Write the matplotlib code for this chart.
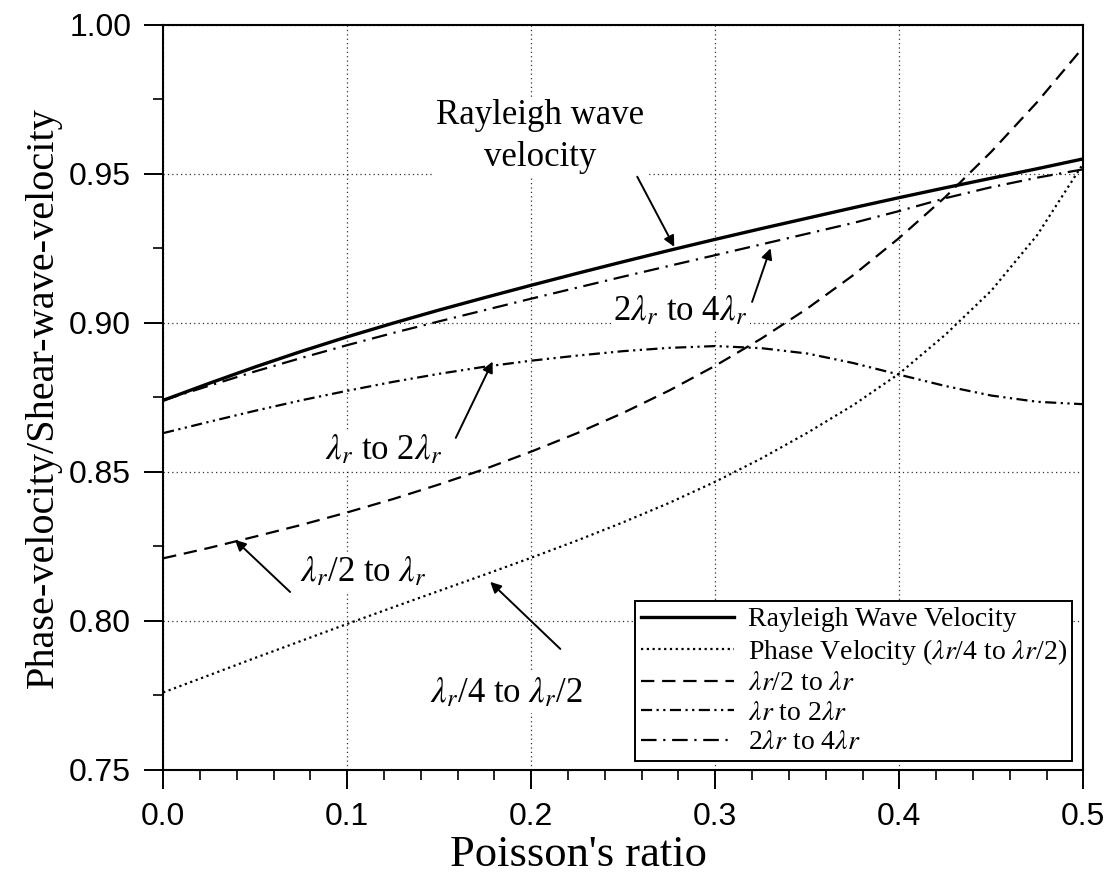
import matplotlib
matplotlib.use("Agg")
import matplotlib.pyplot as plt
from matplotlib.ticker import MultipleLocator

plt.rcParams["mathtext.fontset"] = "stix"

# Poisson's ratio and velocity ratios
poisson = [0.0, 0.025, 0.05, 0.075, 0.1, 0.125, 0.15, 0.175, 0.2, 0.225, 0.25,
           0.275, 0.3, 0.325, 0.35, 0.375, 0.4, 0.425, 0.45, 0.475, 0.5]
rayleigh = [0.8740, 0.8797, 0.8852, 0.8904, 0.8953, 0.8999, 0.9043, 0.9085, 0.9126, 0.9166, 0.9205,
            0.9243, 0.9280, 0.9316, 0.9351, 0.9386, 0.9420, 0.9453, 0.9485, 0.9517, 0.9550]
quarter_half = [0.7760, 0.7818, 0.7876, 0.7933, 0.7990, 0.8046, 0.8101, 0.8156, 0.8212, 0.8270, 0.8331,
                0.8396, 0.8467, 0.8545, 0.8631, 0.8724, 0.8830, 0.8960, 0.9108, 0.9295, 0.9535]
half_one = [0.8210, 0.8245, 0.8283, 0.8322, 0.8364, 0.8409, 0.8458, 0.8510, 0.8568, 0.8630, 0.8698,
            0.8773, 0.8856, 0.8947, 0.9048, 0.9160, 0.9285, 0.9422, 0.9574, 0.9741, 0.9925]
one_two = [0.8630, 0.8668, 0.8705, 0.8740, 0.8772, 0.8802, 0.8829, 0.8853, 0.8873, 0.8890, 0.8905,
           0.8916, 0.8922, 0.8915, 0.8897, 0.8865, 0.8826, 0.8788, 0.8756, 0.8735, 0.8727]
two_four = [0.8740, 0.8789, 0.8837, 0.8882, 0.8925, 0.8966, 0.9005, 0.9043, 0.9081, 0.9118, 0.9155,
            0.9191, 0.9227, 0.9263, 0.9299, 0.9335, 0.9375, 0.9418, 0.9455, 0.9487, 0.9515]

legend_labels = [
    "Rayleigh Wave Velocity",
    r"Phase Velocity ($\lambda r$/4 to $\lambda r$/2)",
    r"$\lambda r$/2 to $\lambda r$",
    r"$\lambda r$ to 2$\lambda r$",
    r"2$\lambda r$ to 4$\lambda r$",
]

serif = "Liberation Serif"
sans = "Liberation Sans"

fig = plt.figure(figsize=(11.1, 8.82), dpi=100)
ax = fig.add_axes([0.147, 0.127, 0.829, 0.845])

ax.plot(poisson, rayleigh, color="black", lw=2.4, ls="-", label=legend_labels[0])
ax.plot(poisson, quarter_half, color="black", lw=1.6, ls=(0, (1, 1.6)), label=legend_labels[1])
ax.plot(poisson, half_one, color="black", lw=1.6, ls=(0, (6, 3.5)), label=legend_labels[2])
ax.plot(poisson, one_two, color="black", lw=1.6, ls=(0, (5, 2, 1, 2, 1, 2)), label=legend_labels[3])
ax.plot(poisson, two_four, color="black", lw=1.6, ls=(0, (7, 3, 1, 3)), label=legend_labels[4])

ax.set_xlim(0, 0.5)
ax.set_ylim(0.75, 1.00)
ax.xaxis.set_major_locator(MultipleLocator(0.1))
ax.xaxis.set_minor_locator(MultipleLocator(0.02))
ax.yaxis.set_major_locator(MultipleLocator(0.05))
ax.yaxis.set_minor_locator(MultipleLocator(0.025))
ax.xaxis.set_major_formatter(plt.FormatStrFormatter("%.1f"))
ax.yaxis.set_major_formatter(plt.FormatStrFormatter("%.2f"))

ax.grid(True, which="major", color="black", ls=(0, (1, 2.5)), lw=0.9, alpha=0.8)
ax.set_axisbelow(True)

ax.tick_params(which="major", direction="out", length=14, width=1.4, pad=9)
ax.tick_params(which="minor", direction="out", length=7, width=1.2)
for lab in ax.get_xticklabels() + ax.get_yticklabels():
    lab.set_fontfamily(sans)
    lab.set_fontsize(23)
for sp in ax.spines.values():
    sp.set_linewidth(1.5)

ax.set_xlabel("Poisson's ratio", fontfamily=serif, fontsize=32, labelpad=2, x=0.451)
ax.set_ylabel("Phase-velocity/Shear-wave-velocity", fontfamily=serif, fontsize=29, labelpad=5)

# annotations with arrows
box = dict(facecolor="white", edgecolor="none", pad=2)
arrow = dict(arrowstyle="-|>", color="black", lw=1.4, mutation_scale=16, shrinkA=0, shrinkB=0)

ax.text(0.205, 0.9624, "Rayleigh wave\nvelocity", ha="center", va="center",
        fontfamily=serif, fontsize=25, linespacing=1.35, bbox=box)
ax.annotate("", xy=(0.2777, 0.9255), xytext=(0.2576, 0.949), arrowprops=arrow)

ax.text(0.281, 0.9040, r"2$\lambda_r$ to 4$\lambda_r$", ha="center", va="center",
        fontfamily=serif, fontsize=25, bbox=box)
ax.annotate("", xy=(0.330, 0.925), xytext=(0.320, 0.907), arrowprops=arrow)

ax.text(0.1196, 0.8574, r"$\lambda_r$ to 2$\lambda_r$", ha="center", va="center",
        fontfamily=serif, fontsize=25, bbox=box)
ax.annotate("", xy=(0.179, 0.887), xytext=(0.159, 0.8614), arrowprops=arrow)

ax.text(0.1087, 0.8164, r"$\lambda_r$/2 to $\lambda_r$", ha="center", va="center",
        fontfamily=serif, fontsize=25, bbox=box)
ax.annotate("", xy=(0.039, 0.8272), xytext=(0.069, 0.8097), arrowprops=arrow)

ax.text(0.1866, 0.7758, r"$\lambda_r$/4 to $\lambda_r$/2", ha="center", va="center",
        fontfamily=serif, fontsize=25, bbox=box)
ax.annotate("", xy=(0.1777, 0.8131), xytext=(0.2158, 0.7906), arrowprops=arrow)

leg = ax.legend(loc="lower right", bbox_to_anchor=(0.988, 0.012), borderaxespad=0,
                prop={"family": serif, "size": 20}, frameon=True, fancybox=False,
                edgecolor="black", framealpha=1, handlelength=3.35, handletextpad=0.5,
                labelspacing=0.15, borderpad=0.2)
leg.get_frame().set_linewidth(1.4)

fig.savefig("out.png", dpi=100, facecolor="white")
